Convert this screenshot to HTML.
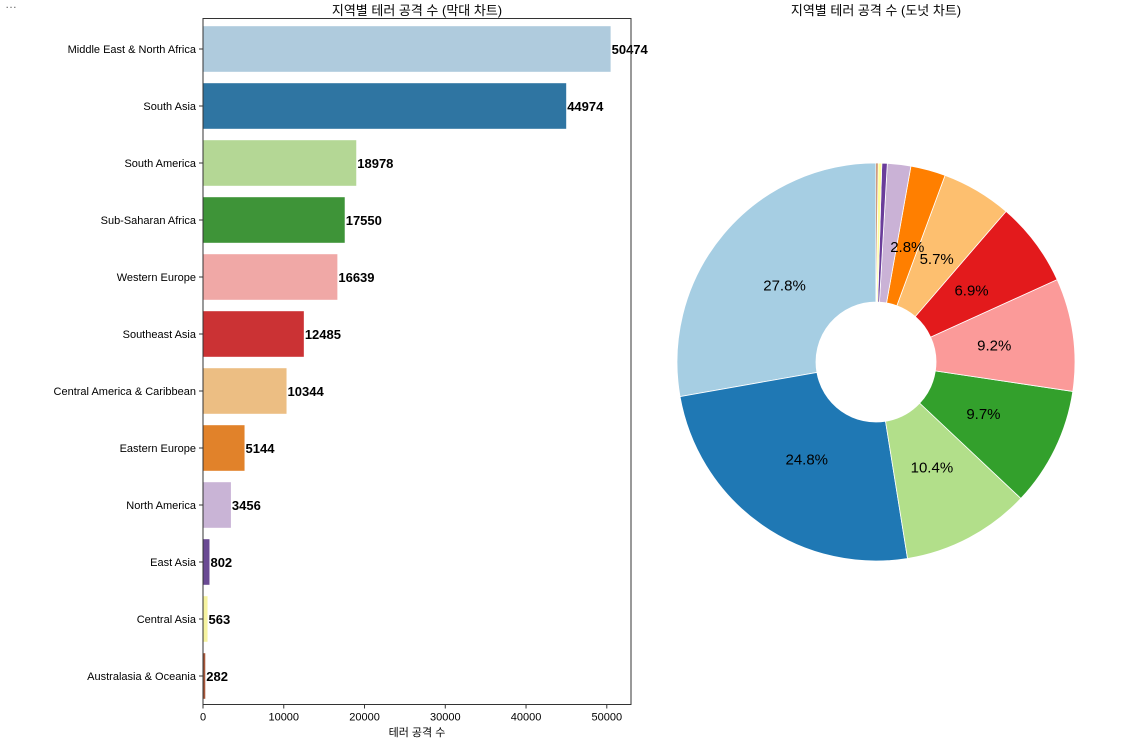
<!DOCTYPE html>
<html><head><meta charset="utf-8"><style>
body{margin:0;background:#fff;width:1126px;height:739px;overflow:hidden;font-family:"Liberation Sans","Noto Sans CJK KR",sans-serif}
svg text{font-family:"Liberation Sans","Noto Sans CJK KR",sans-serif}
</style></head><body>
<svg id="c" width="1126" height="739" xmlns="http://www.w3.org/2000/svg">
<text x="5" y="8" font-size="12" fill="#666">…</text>
<text x="417" y="15" font-size="13" text-anchor="middle">지역별 테러 공격 수 (막대 차트)</text>
<text x="876" y="15" font-size="13" text-anchor="middle">지역별 테러 공격 수 (도넛 차트)</text>
<text x="417" y="736" font-size="11" text-anchor="middle">테러 공격 수</text>
<g id="bars"></g><g id="pie"></g><g id="pielabels"></g>
</svg>
<script>
const categories=["Middle East & North Africa","South Asia","South America","Sub-Saharan Africa","Western Europe","Southeast Asia","Central America & Caribbean","Eastern Europe","North America","East Asia","Central Asia","Australasia & Oceania"];
const values=[50474,44974,18978,17550,16639,12485,10344,5144,3456,802,563,282];
const xTicks=[0,10000,20000,30000,40000,50000];
const barColors=["#afcbdd","#2f75a2","#b4d795","#3e9438","#f0a8a6","#cb3234","#ecbe83","#e1822a","#c9b4d6","#6a4a94","#f6f3a0","#a8573a"];
const pieColors=["#a6cee3","#1f78b4","#b2df8a","#33a02c","#fb9a99","#e31a1c","#fdbf6f","#ff7f00","#cab2d6","#6a3d9a","#ffff99","#b15928"];
const NS="http://www.w3.org/2000/svg";
function mk(p,t,a){const e=document.createElementNS(NS,t);for(const k in a)e.setAttribute(k,a[k]);p.appendChild(e);return e;}
const L=203,R=631,T=20.5,B=704.5,xmax=Math.max(...values)*1.05;
const x=v=>L+v/xmax*(R-L);
const step=(B-T)/categories.length;
const y=i=>T+step*(i+0.5);
const g=document.getElementById('bars');
categories.forEach((c,i)=>{
 const r=mk(g,'rect',{x:x(0),y:y(i)-step*0.4,width:x(values[i])-x(0),height:step*0.8,fill:barColors[i]});
 
 
 const t=mk(g,'text',{x:x(values[i])+1,y:y(i)+5,'font-size':13,'font-weight':'bold'});t.textContent=values[i];
 
 
 const lb=mk(g,'text',{x:L-7,y:y(i)+4,'font-size':11,'text-anchor':'end'});lb.textContent=c;
 
 
 mk(g,'line',{x1:L-4,x2:L,y1:y(i),y2:y(i),stroke:'#333'});
});
const fr=mk(g,'rect',{x:L,y:T-2,width:R-L,height:B-T+2,fill:'none',stroke:'#333','stroke-width':1});


xTicks.forEach(v=>{
 mk(g,'line',{x1:x(v),x2:x(v),y1:B,y2:B+4,stroke:'#333'});
 const t=mk(g,'text',{x:x(v),y:B+16,'font-size':11,'text-anchor':'middle'});t.textContent=v;
 
 
});
const p=document.getElementById('pie'),pl=document.getElementById('pielabels');
const cx=876,cy=362,Ro=199,Ri=60,tot=values.reduce((a,b)=>a+b,0);
let a0=90;
values.forEach((v,i)=>{
 const a1=a0+v/tot*360;
 const rad=d=>d*Math.PI/180;
 const pt=(r,d)=>[cx+r*Math.cos(rad(d)),cy-r*Math.sin(rad(d))];
 const [x0,y0]=pt(Ro,a0),[x1,y1]=pt(Ro,a1),[x2,y2]=pt(Ri,a1),[x3,y3]=pt(Ri,a0);
 const lg=(a1-a0)>180?1:0;
 const s=mk(p,'path',{d:`M${x0},${y0}A${Ro},${Ro} 0 ${lg} 0 ${x1},${y1}L${x2},${y2}A${Ri},${Ri} 0 ${lg} 1 ${x3},${y3}Z`,fill:pieColors[i],stroke:'#fff','stroke-width':0.8});
 
 
 const pct=v/tot*100;
 if(pct>2){const [lx,ly]=pt(Ro*0.6,(a0+a1)/2);
  const t=mk(pl,'text',{x:lx,y:ly+5,'font-size':15,'text-anchor':'middle'});t.textContent=pct.toFixed(1)+'%';
  
  }
 a0=a1;
});
</script>
</body></html>
